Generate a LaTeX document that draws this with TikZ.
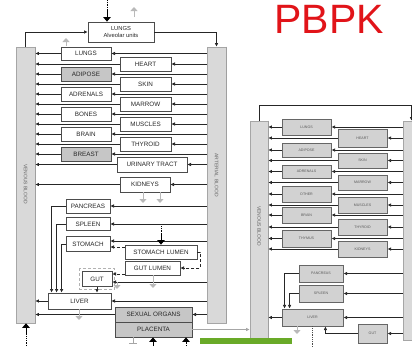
\documentclass[tikz,border=0pt]{standalone}
\usepackage{fontspec}
\setmainfont{Liberation Sans}
\usetikzlibrary{arrows.meta,calc}
\definecolor{pbred}{RGB}{225,20,25}
\definecolor{pbgreen}{RGB}{105,170,40}
\begin{document}
\begin{tikzpicture}[x=1pt,y=-1pt,
  org/.style={draw=black!70, line width=0.8pt, fill=white, inner sep=0pt, font=\fontsize{6.3}{7}\selectfont, text=black!85},
  gorg/.style={org, fill=gray!45},
  forg/.style={draw=black!60, line width=0.9pt, fill=gray!35, inner sep=0pt, font=\fontsize{3.6}{4}\selectfont, text=black!65},
  bar/.style={draw=gray!70, line width=0.6pt, fill=gray!30, inner sep=0pt},
  barlabel/.style={rotate=-90, font=\fontsize{5}{5}\selectfont, text=black!60},
  flow/.style={draw=black!85, line width=0.7pt, -{Latex[length=3.6pt,width=3.6pt]}},
  dflow/.style={flow, densely dashed},
  gout/.style={draw=gray!55, line width=1pt, -{Triangle[length=4pt,width=7pt]}},
  bin/.style={draw=black, line width=0.9pt, -{Triangle[length=4.5pt,width=7.5pt]}},
]
\useasboundingbox (0,0) rectangle (412,346);

% ---------- title
\node[text=pbred, font=\fontsize{41}{41}\selectfont, inner sep=0pt] (title) at (329,19) {PBPK};

% ---------- maternal bars
\node[bar, minimum width=19pt, minimum height=276pt] (ven) at (25.5,185) {};
\node[bar, minimum width=19pt, minimum height=276pt] (art) at (216.5,185) {};
\draw[gray!75, line width=0.8pt] (ven.north east) -- (ven.south east);
\draw[gray!75, line width=0.8pt] (art.north east) -- (art.south east);
\node[barlabel] (venlab) at (25.5,184) {VENOUS BLOOD};
\node[barlabel] (artlab) at (216.5,175) {ARTERIAL BLOOD};

% ---------- maternal organs
\node[org, minimum width=66pt, minimum height=20pt, align=center, font=\fontsize{5.8}{6.8}\selectfont] (alv) at (121,32) {LUNGS\\Alveolar units};
\node[org,  minimum width=50pt, minimum height=13pt] (lungs)    at (86,53.5) {LUNGS};
\node[gorg, minimum width=50pt, minimum height=14pt] (adipose)  at (86,74)   {ADIPOSE};
\node[org,  minimum width=50pt, minimum height=14pt] (adrenals) at (86,94)   {ADRENALS};
\node[org,  minimum width=50pt, minimum height=14pt] (bones)    at (86,114)  {BONES};
\node[org,  minimum width=50pt, minimum height=14pt] (brain)    at (86,134)  {BRAIN};
\node[gorg, minimum width=50pt, minimum height=14pt] (breast)   at (86,154)  {BREAST};

\node[org, minimum width=51pt, minimum height=14pt] (heart)   at (145.5,64)  {HEART};
\node[org, minimum width=51pt, minimum height=14pt] (skin)    at (145.5,84)  {SKIN};
\node[org, minimum width=51pt, minimum height=14pt] (marrow)  at (145.5,104) {MARROW};
\node[org, minimum width=51pt, minimum height=14pt] (muscles) at (145.5,124) {MUSCLES};
\node[org, minimum width=51pt, minimum height=14pt] (thyroid) at (145.5,144) {THYROID};
\node[org, minimum width=70pt, minimum height=15pt] (urinary) at (152,164.5)  {URINARY TRACT};
\node[org, minimum width=50pt, minimum height=15pt] (kidneys) at (145,184.5)  {KIDNEYS};

\node[org, minimum width=44pt, minimum height=14pt] (pancreas) at (88,206) {PANCREAS};
\node[org, minimum width=44pt, minimum height=13pt] (spleen)   at (88,224) {SPLEEN};
\node[org, minimum width=44pt, minimum height=15pt] (stomach)  at (88,244) {STOMACH};
\node[org, minimum width=72pt, minimum height=14pt] (stlumen)  at (161,252) {STOMACH LUMEN};
\node[org, minimum width=55pt, minimum height=14pt] (gutlumen) at (152.5,268) {GUT LUMEN};
\node[org, minimum width=30pt, minimum height=15pt] (gut)      at (97,279) {GUT};
\draw[gray!60, densely dashed, line width=0.6pt] ($(gut.north west)+(-2,-3)$) rectangle ($(gut.south east)+(2,2)$);
\node[org, minimum width=63pt, minimum height=16pt] (liver)    at (79.5,301) {LIVER};
\node[gorg, minimum width=77pt, minimum height=15pt] (sexual)  at (153.5,314.5) {SEXUAL ORGANS};
\node[gorg, minimum width=77pt, minimum height=15pt] (placenta) at (153.5,329.5) {PLACENTA};

% ---------- maternal connectors
\draw[flow] (ven.north) |- (alv.west);
\draw[flow] (alv.east) -| (art.north);
\foreach \o in {lungs,adipose,adrenals,bones,brain,breast,heart,skin,marrow,muscles,thyroid,urinary,kidneys,liver,sexual}{
  \draw[flow] (art.west |- \o.east) -- (\o.east);
  \draw[flow] (\o.west) -- (ven.east |- \o.west);
}
\draw[flow] (art.west |- pancreas.east) -- (pancreas.east);
\draw[flow] (art.west |- spleen.east) -- (spleen.east);
\coordinate (sB) at ($(stomach.east)+(0,-3)$);
\coordinate (sA) at ($(stomach.east)+(0,3)$);
\draw[flow] (art.west |- sB) -- (sB);
\draw[dflow] (stlumen.west |- sA) -- (sA);
\coordinate (gA) at ($(gut.east)+(0,-5)$);
\coordinate (gB) at ($(gut.east)+(0,3)$);
\draw[flow] (art.west |- gB) -- (gB);
\draw[dflow] (gutlumen.west |- gA) -- (gA);
\draw[dflow] (stlumen.east) -- ++(3,0) |- (gutlumen.east);

\draw[flow] (pancreas.west) -| ($(liver.north west)+(4,0)$);
\draw[flow] (spleen.west) -| ($(liver.north west)+(9,0)$);
\draw[flow] (stomach.west) -| ($(liver.north west)+(14,0)$);
\draw[flow] (gut.south) -- (gut.south |- liver.north);

% inputs
\coordinate (inTop) at (107,9);
\draw[black, densely dotted, line width=0.8pt] (107,0) -- (inTop);
\draw[bin] (inTop) -- (inTop |- alv.north);
\coordinate (inSt) at (161,234);
\draw[black, densely dotted, line width=0.8pt] (161,226) -- (inSt);
\draw[bin] (inSt) -- (stlumen.north);
\coordinate (inVen) at (26,333);
\draw[black, densely dotted, line width=0.8pt] (26,346) -- (inVen);
\draw[bin] (inVen) -- (inVen |- ven.south);
\coordinate (inPl1) at (153,346);
\draw[bin] (inPl1) -- (inPl1 |- placenta.south);
\coordinate (inPl2) at (186,346);
\coordinate (inPl2b) at (186,341);
\draw[black, densely dotted, line width=0.8pt] (inPl2) -- (inPl2b);
\draw[bin] (inPl2b) -- (inPl2b |- placenta.south);
\draw[gray!70, line width=0.6pt] (133,0 |- placenta.south) -- (133,343) (129,343) -- (137,343);

% outputs (grey)
\draw[gout] (134,17) -- (134,7);
\draw[gout] (66,46) -- (66,38);
\draw[gout] (143,0 |- kidneys.south) -- (143,203);
\draw[gout] (160,0 |- kidneys.south) -- (160,203);
\draw[gout] (153,0 |- gutlumen.south) -- (153,288);
\draw[gout] (117,282) -- (117,289);
\draw[gout] (79,0 |- liver.south) -- (79,320);

% ---------- fetal bars
\node[bar, minimum width=18pt, minimum height=217pt] (fven) at (259,229.5) {};
\node[bar, minimum width=17pt, minimum height=219pt] (fart) at (411.5,230.5) {};
\draw[gray!75, line width=0.8pt] (fven.north east) -- (fven.south east);
\node[barlabel] (fvenlab) at (259,226) {VENOUS BLOOD};

% ---------- fetal organs
\node[forg, minimum width=49pt, minimum height=16pt] (flungs)    at (306.5,127)   {LUNGS};
\node[forg, minimum width=49pt, minimum height=14pt] (fadipose)  at (306.5,150)   {ADIPOSE};
\node[forg, minimum width=49pt, minimum height=13pt] (fadrenals) at (306.5,171.5) {ADRENALS};
\node[forg, minimum width=49pt, minimum height=16pt] (fother)    at (306.5,194)   {OTHER};
\node[forg, minimum width=49pt, minimum height=16pt] (fbrain)    at (306.5,215)   {BRAIN};
\node[forg, minimum width=49pt, minimum height=17pt] (fthymus)   at (306.5,238.5) {THYMUS};
\node[forg, minimum width=49pt, minimum height=18pt] (fheart)    at (362.5,138)   {HEART};
\node[forg, minimum width=49pt, minimum height=15pt] (fskin)     at (362.5,160.5) {SKIN};
\node[forg, minimum width=49pt, minimum height=15pt] (fmarrow)   at (362.5,182.5) {MARROW};
\node[forg, minimum width=49pt, minimum height=16pt] (fmuscles)  at (362.5,205)   {MUSCLES};
\node[forg, minimum width=49pt, minimum height=16pt] (fthyroid)  at (362.5,227)   {THYROID};
\node[forg, minimum width=49pt, minimum height=16pt] (fkidneys)  at (362.5,249)   {KIDNEYS};
\node[forg, minimum width=44pt, minimum height=17pt] (fpancreas) at (321,273.5)   {PANCREAS};
\node[forg, minimum width=44pt, minimum height=17pt] (fspleen)   at (321,293.5)   {SPLEEN};
\node[forg, minimum width=61pt, minimum height=17pt] (fliver)    at (312.5,317.5) {LIVER};
\node[forg, minimum width=29pt, minimum height=19pt] (fgut)      at (372.5,333.5) {GUT};

% ---------- fetal connectors
\draw[flow] (fven.north) -- ++(0,-15) -| (fart.north);
\foreach \o in {flungs,fadipose,fadrenals,fother,fbrain,fthymus,fheart,fskin,fmarrow,fmuscles,fthyroid,fkidneys,fliver}{
  \draw[flow] (fart.west |- \o.east) -- (\o.east);
  \draw[flow] (\o.west) -- (fven.east |- \o.west);
}
\draw[flow] (fart.west |- fpancreas.east) -- (fpancreas.east);
\draw[flow] (fart.west |- fspleen.east) -- (fspleen.east);
\draw[flow] (fart.west |- fgut.east) -- (fgut.east);
\draw[flow] (fpancreas.west) -| ($(fliver.north west)+(3,0)$);
\draw[flow] (fspleen.west) -| ($(fliver.north west)+(8,0)$);
\draw[flow] (fgut.west) -| ($(fliver.south east)+(-18,0)$);
\draw[gout] (297,0 |- fliver.south) -- (297,334);
\draw[black!70, densely dotted, line width=0.8pt] (fliver.south) -- ++(0,20);

% ---------- placenta link
\draw[flow, draw=gray!70] (placenta.east) -- (fven.west |- placenta.east);
\fill[pbgreen] (200,338) rectangle (292,344);
\end{tikzpicture}
\end{document}
